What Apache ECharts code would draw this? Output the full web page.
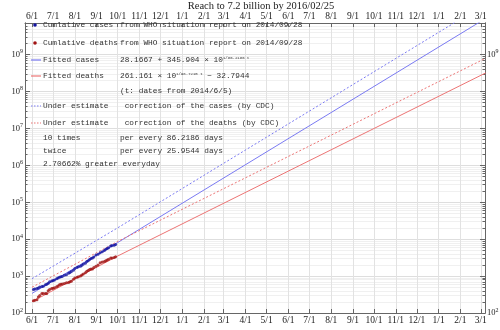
<!DOCTYPE html>
<html><head><meta charset="utf-8">
<script src="https://cdn.jsdelivr.net/npm/echarts@6/dist/echarts.min.js"></script>
<style>html,body{margin:0;padding:0;background:#fff}#c{width:500px;height:330px}</style>
</head><body><div id="c"></div>
<script>
// ---- data ----
const reportDates = ['2014-06-03','2014-06-05','2014-06-08','2014-06-10','2014-06-12','2014-06-15','2014-06-17','2014-06-20','2014-06-22','2014-06-24','2014-06-26','2014-06-29','2014-07-01','2014-07-03','2014-07-06','2014-07-08','2014-07-10','2014-07-12','2014-07-14','2014-07-17','2014-07-20','2014-07-23','2014-07-25','2014-07-27','2014-07-30','2014-08-01','2014-08-04','2014-08-06','2014-08-09','2014-08-11','2014-08-13','2014-08-16','2014-08-18','2014-08-20','2014-08-22','2014-08-24','2014-08-26','2014-08-28','2014-08-31','2014-09-03','2014-09-06','2014-09-09','2014-09-12','2014-09-14','2014-09-16','2014-09-18','2014-09-21','2014-09-23','2014-09-26','2014-09-28'];
const cumCases = [430,445,460,475,510,525,528,581,599,635,700,740,759,779,844,888,930,964,982,1048,1093,1201,1260,1323,1440,1603,1711,1779,1848,1975,2127,2240,2473,2615,2800,3000,3069,3300,3707,3900,4293,4600,4950,5335,5600,5850,6574,6700,6900,7178];
const cumDeaths = [215,220,230,270,300,335,337,338,340,399,430,460,467,481,518,539,580,603,613,632,660,672,700,729,826,887,932,961,1013,1069,1145,1229,1350,1427,1510,1550,1552,1700,1848,2000,2296,2400,2500,2622,2750,2850,3091,3100,3200,3338];

const fitDates = ['2014-06-01','2014-10-01','2016-03-08'];
const fitCases = [340, 8100, 9.6e9];
const cdcCases = [850, 20300, 2.4e10];
const fitDeaths = [203, 3500, 3.2e8];
const cdcDeaths = [500, 8700, 8.0e8];

const monthTicks = ['2014-06-01','2014-07-01','2014-08-01','2014-09-01','2014-10-01','2014-11-01','2014-12-01','2015-01-01','2015-02-01','2015-03-01','2015-04-01','2015-05-01','2015-06-01','2015-07-01','2015-08-01','2015-09-01','2015-10-01','2015-11-01','2015-12-01','2016-01-01','2016-02-01','2016-03-01'];
const decades = [2,3,4,5,6,7,8,9];
const minorMultipliers = [2,3,4,5,6,7,8,9];
const rightLabelDecades = [2,9];

const xRange = ['2014-05-22','2016-03-07'];
const yRange = [100, 7.2e9];

// ---- helpers ----
function ts(s){const p=s.split('-').map(Number);return new Date(p[0],p[1]-1,p[2]).getTime();}
const monthTs = monthTicks.map(ts);
const yMajor = decades.map(d=>Math.pow(10,d));
const yMinor = [];
decades.forEach(d=>minorMultipliers.forEach(m=>{const v=m*Math.pow(10,d); if(v<yRange[1]) yMinor.push(v);}));
const yRightLab = rightLabelDecades.map(d=>Math.pow(10,d));
const serif = 'Liberation Serif';
const mono = 'Liberation Mono';
const ink = '#222';
const frame = '#666';

function fmtDate(v){const d=new Date(v);return (d.getMonth()+1)+'/'+d.getDate();}
const powRich = {b:{fontFamily:serif,fontSize:8.5,color:ink},s:{fontFamily:serif,fontSize:6,color:ink,padding:[0,0,6,0]}};
function fmtPow(v){return '{b|10}{s|'+Math.round(Math.log10(v))+'}';}

function xAx(pos, labels){
  return {type:'value', position:pos, min:ts(xRange[0]), max:ts(xRange[1]), scale:true,
    axisLine:{show:true,onZero:false,lineStyle:{color:frame,width:1}},
    axisTick:{show:true,inside:true,length:4,customValues:monthTs,lineStyle:{color:frame}},
    axisLabel:{show:labels,customValues:monthTs,formatter:fmtDate,fontFamily:serif,fontSize:9.5,color:ink,margin:2,hideOverlap:false},
    splitLine:{show:pos==='bottom',lineStyle:{color:'#e2e2e2',width:1}},
    minorTick:{show:false}};
}
function yAx(pos, vals, tickLen, labVals, split, splitColor){
  return {type:'log', logBase:10, position:pos, min:yRange[0], max:yRange[1],
    axisLine:{show:true,onZero:false,lineStyle:{color:frame,width:1}},
    axisTick:{show:true,inside:true,length:tickLen,customValues:vals,lineStyle:{color:frame}},
    axisLabel:{show:!!labVals,customValues:labVals||vals,formatter:fmtPow,rich:powRich,margin:2,hideOverlap:false,showMinLabel:true,showMaxLabel:true},
    splitLine:{show:split,lineStyle:{color:splitColor||'#eee',width:1}}};
}

const xAxes = [xAx('bottom',true), xAx('top',true)];
xAxes[0].name='Dates'; xAxes[0].nameLocation='middle'; xAxes[0].nameGap=11;
xAxes[0].nameTextStyle={fontFamily:serif,fontSize:8.5,color:ink};

const yAxes = [
  yAx('left', yMajor, 5, yMajor, true, '#dedede'),
  yAx('left', yMinor, 2.5, null, true, '#f0f0f0'),
  yAx('right', yMajor, 5, yRightLab, false),
  yAx('right', yMinor, 2.5, null, false)
];
yAxes[0].name='Cumlative ebola cases'; yAxes[0].nameLocation='middle'; yAxes[0].nameGap=18; yAxes[0].nameRotate=90;
yAxes[0].nameTextStyle={fontFamily:serif,fontSize:10,color:ink};

const blueDot='#1414a0', redDot='#a01414', blueLine='#7a7af2', redLine='#ec7474';
function pts(dates, vals){return dates.map((d,i)=>[ts(d), vals[i]]);}
function line(vals,color,dash){return {type:'line',xAxisIndex:0,yAxisIndex:0,data:pts(fitDates,vals),showSymbol:false,symbol:'none',clip:true,silent:true,
  lineStyle:{color:color,width:1,type:dash?[2,2]:'solid'},z:3};}

// legend drawn as graphic text
const rows = [
  {y:25, sym:'dot', color:blueDot, a:'Cumlative cases', b:'from WHO situation report on 2014/09/28', bx:120},
  {y:43, sym:'dot', color:redDot, a:'Cumlative deaths', b:'from WHO situation report on 2014/09/28', bx:120},
  {y:60, sym:'line', color:blueLine, a:'Fitted cases', b:'28.1667 + 345.904 \u00d7 10{s|1/86.2186 t}', bx:120},
  {y:76, sym:'line', color:redLine, a:'Fitted deaths', b:'261.161 \u00d7 10{s|1/98.7215 t} \u2212 32.7944', bx:120},
  {y:91, a:'', b:'(t: dates from 2014/6/5)', bx:120},
  {y:106, sym:'dash', color:blueLine, a:'Under estimate', b:' correction of the cases (by CDC)', bx:120},
  {y:123, sym:'dash', color:redLine, a:'Under estimate', b:' correction of the deaths (by CDC)', bx:120},
  {y:138, a:'10 times', b:'per every 86.2186 days', bx:120},
  {y:151, a:'twice', b:'per every 25.9544 days', bx:120},
  {y:164, a:'2.70662% greater everyday', b:'', bx:120}
];
const g = [];
const txtStyle = {fontFamily:mono,fontSize:7.8,fill:'#333',verticalAlign:'middle'};
rows.forEach(r=>{
  if(r.sym==='dot') g.push({type:'circle',z:100,shape:{cx:35,cy:r.y,r:1.8},style:{fill:r.color}});
  if(r.sym==='line') g.push({type:'line',z:100,shape:{x1:31,y1:r.y,x2:41,y2:r.y},style:{stroke:r.color,lineWidth:1.2}});
  if(r.sym==='dash') g.push({type:'line',z:100,shape:{x1:31,y1:r.y,x2:41,y2:r.y},style:{stroke:r.color,lineWidth:1.2,lineDash:[1.5,1.5]}});
  if(r.a) g.push({type:'text',z:100,x:43,y:r.y,style:Object.assign({text:r.a},txtStyle)});
  if(r.b) g.push({type:'text',z:100,x:r.bx,y:r.y,style:Object.assign({text:r.b,rich:{s:{fontFamily:mono,fontSize:4,fill:'#333',padding:[0,0,5,0]}}},txtStyle)});
});

const chart = echarts.init(document.getElementById('c'), null, {renderer:'canvas'});
chart.setOption({
  animation:false,
  backgroundColor:'#fff',
  title:{text:'Reach to 7.2 billion by 2016/02/25',left:256,textAlign:'center',top:-4,textStyle:{fontFamily:serif,fontSize:10.5,fontWeight:'normal',color:ink}},
  grid:{left:25,right:15,top:23,bottom:17,containLabel:false,outerBoundsMode:'none'},
  xAxis:xAxes,
  yAxis:yAxes,
  series:[
    line(cdcCases,blueLine,true),
    line(fitCases,blueLine,false),
    line(cdcDeaths,redLine,true),
    line(fitDeaths,redLine,false),
    {type:'scatter',xAxisIndex:0,yAxisIndex:0,data:pts(reportDates,cumCases),symbol:'circle',symbolSize:3,itemStyle:{color:blueDot},z:5,silent:true},
    {type:'scatter',xAxisIndex:0,yAxisIndex:0,data:pts(reportDates,cumDeaths),symbol:'circle',symbolSize:3,itemStyle:{color:redDot},z:5,silent:true}
  ],
  graphic:g
});
</script>
</body></html>
